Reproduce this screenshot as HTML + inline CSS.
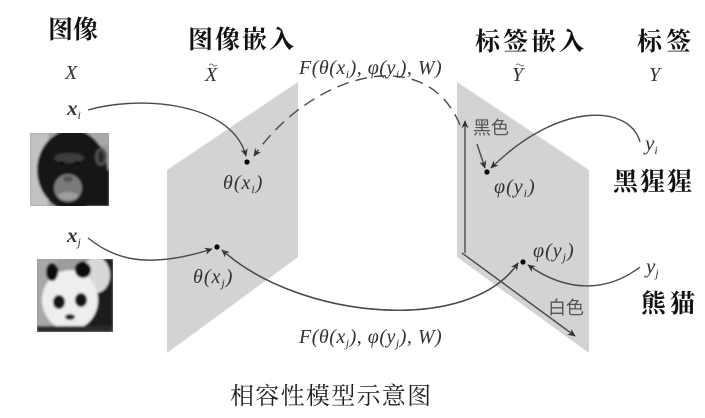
<!DOCTYPE html>
<html>
<head>
<meta charset="utf-8">
<style>
html,body{margin:0;padding:0;background:#fff;}
svg{display:block;}
.m{font-family:"Liberation Serif",serif;font-style:italic;fill:#333;}
.cb{font-family:"Liberation Serif","Noto Serif CJK SC",serif;font-weight:bold;fill:#111;}
.cr{font-family:"Liberation Serif","Noto Serif CJK SC",serif;fill:#222;}
.cs{font-family:"Liberation Sans","Noto Sans CJK SC",sans-serif;fill:#555;}
</style>
</head>
<body>
<svg width="705" height="418" viewBox="0 0 705 418" xmlns="http://www.w3.org/2000/svg">
<defs>
  <marker id="ah" viewBox="0 0 10 10" refX="9" refY="5" markerWidth="8" markerHeight="8" markerUnits="userSpaceOnUse" orient="auto">
    <path d="M0,0.5 L10,5 L0,9.5 L3,5 z" fill="#333"/>
  </marker>
  <filter id="bl" x="-5%" y="-5%" width="110%" height="110%"><feGaussianBlur stdDeviation="1"/></filter>
  <clipPath id="cc"><rect x="30" y="133" width="79" height="73"/></clipPath>
  <clipPath id="pc"><rect x="37" y="259" width="76" height="73"/></clipPath>
</defs>

<!-- planes -->
<polygon points="167,170 298,82 298,257 167,353" fill="#d3d3d3"/>
<polygon points="457,82 589,170 589,353 457,257" fill="#d3d3d3"/>

<!-- chimp image -->
<g clip-path="url(#cc)">
  <rect x="30" y="133" width="79" height="73" fill="#9c9c9c"/>
  <g filter="url(#bl)">
    <rect x="30" y="133" width="18" height="73" fill="#c2c2c2"/>
    <rect x="48" y="133" width="61" height="12" fill="#a8a8a8"/>
    <polygon points="95,175 109,170 109,206 80,206" fill="#161616"/>
    <ellipse cx="72" cy="170" rx="35" ry="40" fill="#141414"/>
    <ellipse cx="101" cy="157" rx="6" ry="9" fill="#505050"/>
    <ellipse cx="101" cy="157" rx="3" ry="6" fill="#262626"/>
    <ellipse cx="69" cy="158" rx="15" ry="5" fill="#3c3c3c"/>
    <ellipse cx="62" cy="163" rx="3" ry="2" fill="#080808"/>
    <ellipse cx="77" cy="163" rx="3" ry="2" fill="#080808"/>
    <ellipse cx="68" cy="188" rx="14" ry="14" fill="#7a7a7a"/>
    <ellipse cx="68" cy="179" rx="5" ry="3" fill="#555"/>
    <ellipse cx="68" cy="196" rx="10" ry="4" fill="#9e9e9e"/>
  </g>
</g>

<!-- panda image -->
<g clip-path="url(#pc)">
  <rect x="37" y="259" width="76" height="73" fill="#9c9c9c"/>
  <g filter="url(#bl)">
    <rect x="37" y="259" width="20" height="73" fill="#a8a8a8"/>
    <polygon points="95,259 113,259 113,332 80,332 98,300" fill="#1e1e1e"/>
    <ellipse cx="96" cy="275" rx="14" ry="18" fill="#d8d8d8"/>
    <ellipse cx="70" cy="300" rx="28" ry="30" fill="#eeeeee"/>
    <ellipse cx="52" cy="272" rx="6" ry="9" fill="#111"/>
    <ellipse cx="83" cy="270" rx="8" ry="8" fill="#111"/>
    <ellipse cx="59" cy="302" rx="6" ry="7" fill="#151515"/>
    <ellipse cx="81" cy="300" rx="6" ry="7" fill="#151515"/>
    <ellipse cx="70" cy="317" rx="5" ry="3" fill="#222"/>
    <rect x="37" y="326" width="76" height="6" fill="#2a2a2a"/>
  </g>
</g>

<!-- connectors -->
<g fill="none" stroke="#4a4a4a" stroke-width="1.4">
  <path d="M88,110 C140,95 232,102 246,156" marker-end="url(#ah)"/>
  <path d="M460,125 C425,40 310,75 254,156" stroke-dasharray="12,7" marker-end="url(#ah)"/>
  <path d="M88,238 C110,255 140,272 212,249" marker-end="url(#ah)"/>
  <path d="M518,263 C470,335 300,320 222,250" marker-end="url(#ah)"/>
  <path d="M222,250 C300,320 470,335 518,263" marker-end="url(#ah)"/>
  <path d="M640,267 C610,290 570,295 528,265" marker-end="url(#ah)"/>
  <path d="M640,142 C630,105 560,100 491,168" marker-end="url(#ah)"/>
  <path d="M477,144 L485,168" marker-end="url(#ah)"/>
  <path d="M465,253 L465,121" marker-end="url(#ah)"/>
  <path d="M462,253 L575,336" marker-end="url(#ah)"/>
</g>

<!-- dots -->
<circle cx="247" cy="162" r="2.6" fill="#000"/>
<circle cx="217" cy="247" r="2.6" fill="#000"/>
<circle cx="487" cy="172" r="2.6" fill="#000"/>
<circle cx="523" cy="262" r="2.6" fill="#000"/>

<!-- Chinese headings -->
<text class="cb" x="48" y="38" font-size="25">图像</text>
<text class="cb" x="188" y="48" font-size="25" letter-spacing="2">图像嵌入</text>
<text class="cb" x="475" y="50" font-size="25" letter-spacing="3">标签嵌入</text>
<text class="cb" x="637" y="50" font-size="25" letter-spacing="4">标签</text>
<text class="cb" x="613" y="190" font-size="25" letter-spacing="2">黑猩猩</text>
<text class="cb" x="641" y="312" font-size="25" letter-spacing="4">熊猫</text>
<text class="cs" x="473" y="134" font-size="18">黑色</text>
<text class="cs" x="548" y="314" font-size="18">白色</text>
<text class="cr" x="230" y="404" font-size="24" letter-spacing="1.3">相容性模型示意图</text>

<!-- math labels -->
<text class="m" x="65" y="79" font-size="20">X</text>
<text class="m" x="205" y="81" font-size="20">X</text>
<path d="M209,65 q2,-2 4,0 t4,0" stroke="#777" stroke-width="0.9" fill="none"/>
<text class="m" x="512" y="81" font-size="20">Y</text>
<path d="M516,65 q2,-2 4,0 t4,0" stroke="#777" stroke-width="0.9" fill="none"/>
<text class="m" x="649" y="81" font-size="20">Y</text>

<text class="m" x="299" y="74" font-size="20" letter-spacing="0.5">F(θ(x<tspan font-size="12" dy="4">i</tspan><tspan dy="-4">), φ(y</tspan><tspan font-size="12" dy="4">i</tspan><tspan dy="-4">), W)</tspan></text>
<text class="m" x="299" y="343" font-size="20" letter-spacing="0.5">F(θ(x<tspan font-size="12" dy="4">j</tspan><tspan dy="-4">), φ(y</tspan><tspan font-size="12" dy="4">j</tspan><tspan dy="-4">), W)</tspan></text>

<text class="m" x="67" y="115" font-size="21" font-weight="bold">x<tspan font-size="12" dy="4" font-weight="normal">i</tspan></text>
<text class="m" x="67" y="242" font-size="21" font-weight="bold">x<tspan font-size="12" dy="4" font-weight="normal">j</tspan></text>

<text class="m" x="223" y="189" font-size="20" letter-spacing="1">θ(x<tspan font-size="12" dy="4">i</tspan><tspan dy="-4">)</tspan></text>
<text class="m" x="193" y="283" font-size="20" letter-spacing="1">θ(x<tspan font-size="12" dy="4">j</tspan><tspan dy="-4">)</tspan></text>
<text class="m" x="494" y="193" font-size="20" letter-spacing="1">φ(y<tspan font-size="12" dy="4">i</tspan><tspan dy="-4">)</tspan></text>
<text class="m" x="533" y="257" font-size="20" letter-spacing="1">φ(y<tspan font-size="12" dy="4">j</tspan><tspan dy="-4">)</tspan></text>

<text class="m" x="645" y="150" font-size="21">y<tspan font-size="12" dy="4">i</tspan></text>
<text class="m" x="646" y="273" font-size="21">y<tspan font-size="12" dy="4">j</tspan></text>
</svg>
</body>
</html>
